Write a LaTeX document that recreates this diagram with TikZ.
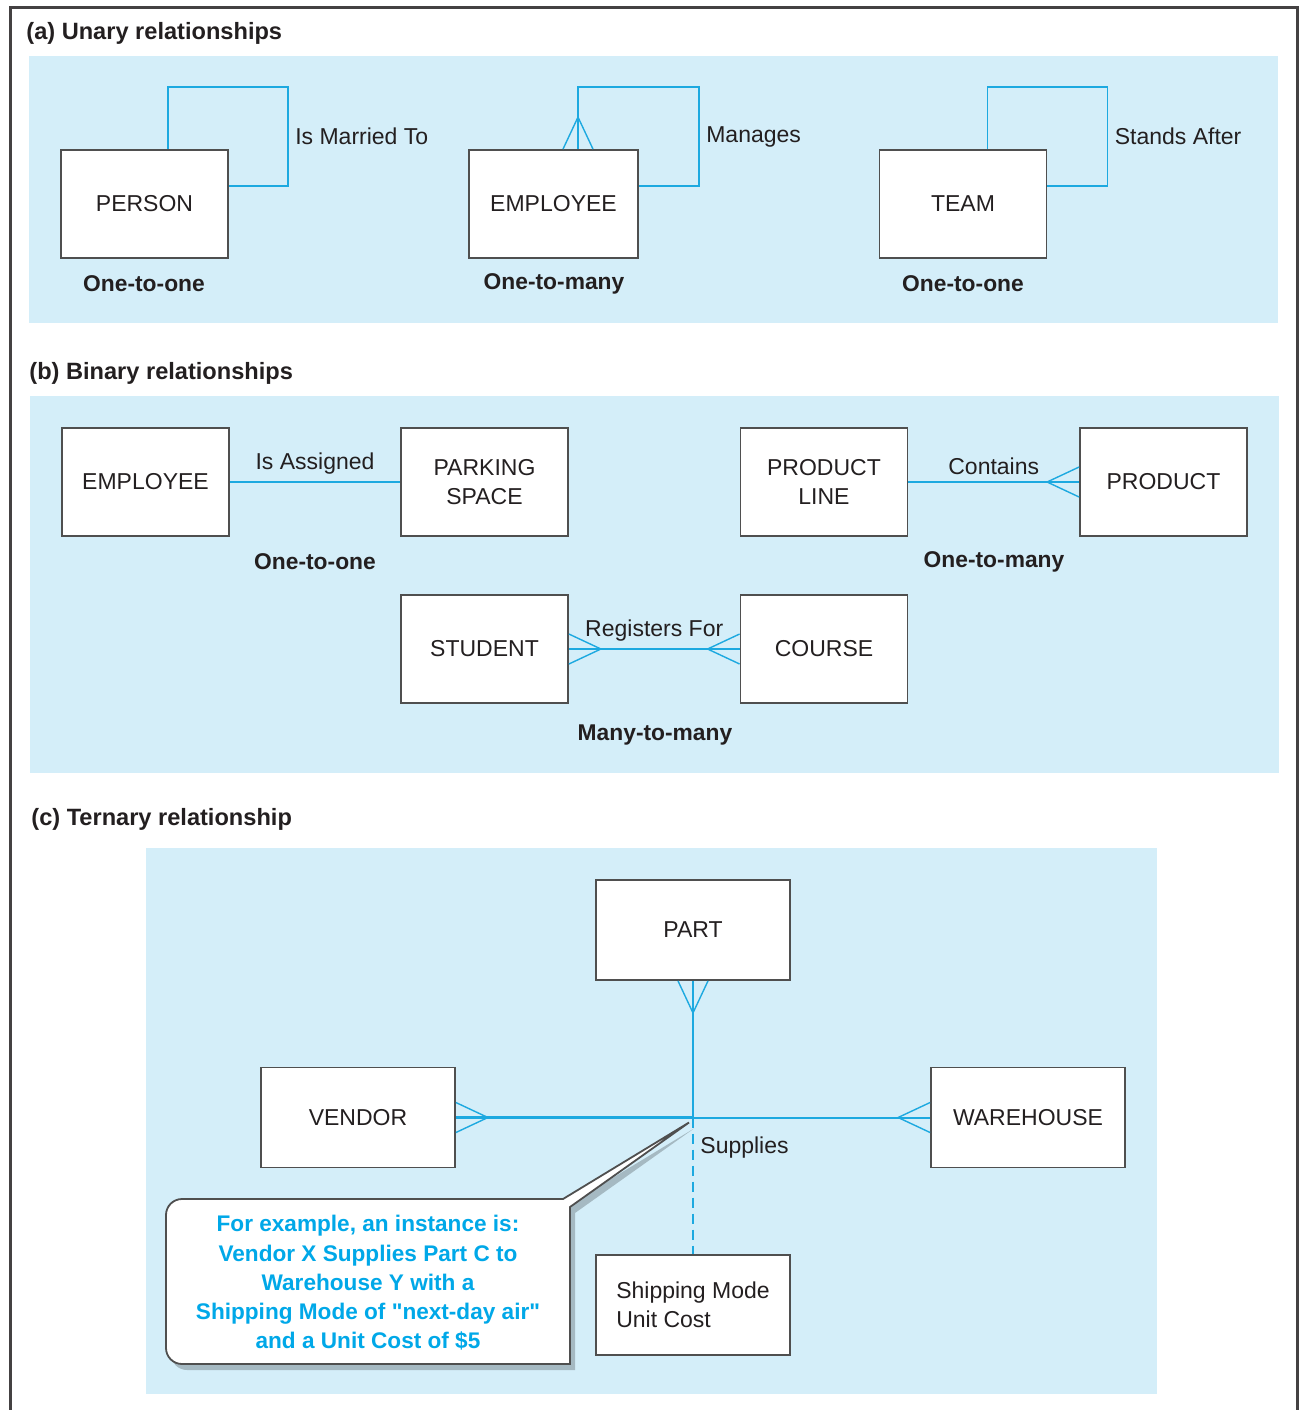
\documentclass[tikz,border=0pt]{standalone}
\usepackage{fontspec}
\setmainfont{Liberation Sans}
\usetikzlibrary{shadows}

\definecolor{panel}{HTML}{D4EEF9}
\definecolor{relline}{HTML}{1DA9E0}
\definecolor{notetext}{HTML}{00A8E8}
\definecolor{boxline}{HTML}{4F4F4F}
\definecolor{ink}{HTML}{231F20}
\newcommand\plainquote{\XeTeXglyph\XeTeXcharglyph"22\relax}

\begin{document}
\begin{tikzpicture}[x=0.5pt, y=-0.5pt, font=\fontsize{11.5}{14.5}\selectfont, text=ink,
  entity/.style={draw=boxline, line width=0.9pt, fill=white, minimum width=83.5pt,
    minimum height=54pt, align=center, inner sep=0pt},
  bigentity/.style={entity, minimum width=97pt, minimum height=50pt},
  rel/.style={draw=relline, line width=0.75pt},
  tern/.style={draw=relline, line width=1pt},
  heading/.style={font=\fontsize{11.8}{14}\selectfont\bfseries, anchor=west, inner sep=0pt},
  card/.style={font=\fontsize{11.4}{14}\selectfont\bfseries},
  crow/.pic={\draw[relline, line width=0.7pt] (0,7.5pt) -- (-16pt,0) -- (0,-7.5pt);}]
  \useasboundingbox (0,0) rectangle (1299,1410);

  % panels and frame
  \fill[panel] (29,56) rectangle (1278,323);
  \fill[panel] (30,396) rectangle (1279,773);
  \fill[panel] (146,848) rectangle (1157,1394);
  \draw[ink!85, line width=1.5pt] (10,1410) -- (10,7) -- (1297,7) -- (1297,1410);

  \node[heading] (heada) at (26,33) {(a) Unary relationships};
  \node[heading] (headb) at (29,373) {(b) Binary relationships};
  \node[heading] (headc) at (31,819) {(c) Ternary relationship};

  % (a) unary
  \node[entity] (person) at (144.5,204) {PERSON};
  \node[entity, minimum width=84.5pt] (employee) at (553.5,204) {EMPLOYEE};
  \node[entity] (team) at (963,204) {TEAM};

  \draw[rel] ([xshift=-30.5pt]person.north east) |- ([shift={(29.5pt,31pt)}]person.north east)
    |- node[pos=.25, right] (married) {Is Married To} ([yshift=9pt]person.east);
  \draw[rel] ([xshift=12.25pt]employee.north) |- ([shift={(30pt,31pt)}]employee.north east)
    |- node[pos=.25, right] (manages) {Manages} ([yshift=9pt]employee.east);
  \pic[rotate=-90] at ([xshift=12.25pt]employee.north) {crow};
  \draw[rel] ([xshift=-30pt]team.north east) |- ([shift={(30pt,31pt)}]team.north east)
    |- node[pos=.25, right] (after) {Stands After} ([yshift=9pt]team.east);

  \node[card] (carda1) at (144,284) {One-to-one};
  \node[card] (carda2) at (554,284) {One-to-many};
  \node[card] (carda3) at (963,284) {One-to-one};

  % (b) binary
  \node[entity] (emp2) at (145.5,482) {EMPLOYEE};
  \node[entity] (parking) at (484.5,482) {PARKING\\SPACE};
  \node[entity] (pline) at (824,482) {PRODUCT\\LINE};
  \node[entity] (product) at (1163.5,482) {PRODUCT};
  \node[entity] (student) at (484.5,649) {STUDENT};
  \node[entity] (course) at (824,649) {COURSE};

  \draw[rel] (emp2) -- node[above] (assigned) {Is Assigned} (parking);
  \draw[rel] (pline) -- node[above] (contains) {Contains} (product);
  \pic at (product.west) {crow};
  \draw[rel] (student) -- node[above] (registers) {Registers For} (course);
  \pic[rotate=180] at (student.east) {crow};
  \pic at (course.west) {crow};

  \node[card] (cardb1) at (315,562) {One-to-one};
  \node[card] (cardb2) at (994,562) {One-to-many};
  \node[card] (cardb3) at (655,735) {Many-to-many};

  % (c) ternary
  \node[bigentity] (part) at (693,930) {PART};
  \node[bigentity] (vendor) at (358,1117.5) {VENDOR};
  \node[bigentity] (warehouse) at (1028,1117.5) {WAREHOUSE};
  \node[bigentity, align=left] (shipping) at (693,1305) {Shipping Mode\\Unit Cost};
  \coordinate (hub) at (part.south |- vendor.east);

  \draw[tern] (part) -- (hub);
  \draw[tern, line width=1.4pt] (vendor) -- (hub);
  \draw[tern] (hub) -- (warehouse);
  \draw[rel, dash pattern=on 5pt off 3pt] (hub) -- node[pos=.22, right] (supplies) {Supplies} (shipping);
  \pic[rotate=90] at (part.south) {crow};
  \pic[rotate=180] at (vendor.east) {crow};
  \pic at (warehouse.west) {crow};

  % callout
  \draw[draw=boxline, line width=0.9pt, fill=white,
    drop shadow={shadow xshift=2.5pt, shadow yshift=-3pt, fill=black, opacity=.22}]
    (360,1199) [sharp corners] -- (563,1199) -- ([shift={(-4,5)}]hub) -- (570,1207)
    -- (570,1364) [rounded corners=8pt] -- (166,1364) -- (166,1199) -- cycle;
  \node[font=\fontsize{11.3}{14.6}\selectfont\bfseries, text=notetext, align=center] (example)
    at (368,1283) {For example, an instance is:\\Vendor X Supplies Part C to\\Warehouse Y with a\\
    Shipping Mode of \plainquote next-day air\plainquote\\and a Unit Cost of \$5};
\end{tikzpicture}
\end{document}
